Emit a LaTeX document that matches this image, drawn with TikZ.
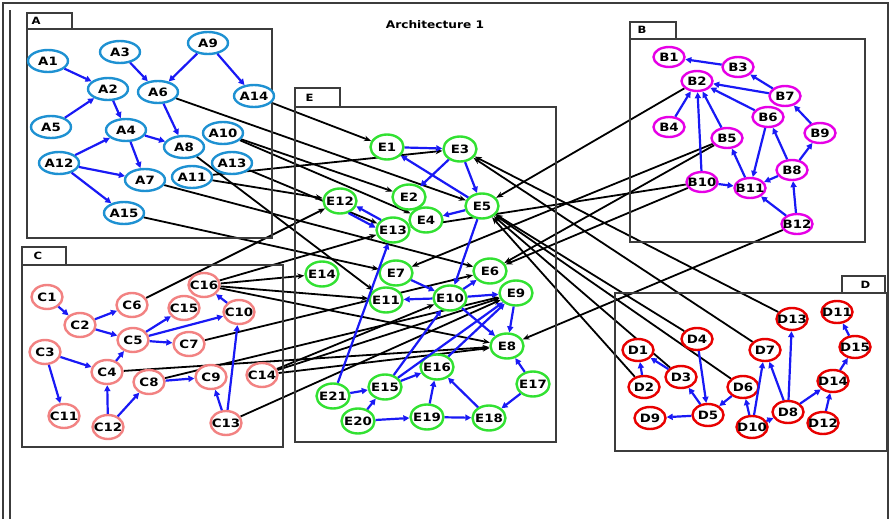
\documentclass[tikz,border=0pt]{standalone}
\usepackage{fontspec}
\newfontfamily\lblfont{DejaVu Sans}[FakeStretch=1.16]
\usetikzlibrary{arrows.meta,shapes.geometric,backgrounds}
\definecolor{acol}{RGB}{30,145,210}
\definecolor{bcol}{RGB}{230,0,230}
\definecolor{ccol}{RGB}{242,130,130}
\definecolor{dcol}{RGB}{232,0,0}
\definecolor{ecol}{RGB}{50,225,50}
\definecolor{arrblue}{RGB}{25,25,245}
\definecolor{boxgray}{RGB}{60,60,60}

\begin{document}
\begin{tikzpicture}[x=1pt,y=-1pt,
  every node/.style={font=\lblfont\bfseries\fontsize{11.5}{12}\selectfont},
  nd/.style={ellipse, draw, fill=white, line width=2.4pt, inner xsep=-6pt, inner ysep=-2pt},
  anode/.style={nd, draw=acol, minimum width=40pt, minimum height=22pt},
  bnode/.style={nd, draw=bcol, minimum width=31pt, minimum height=20pt},
  cnode/.style={nd, draw=ccol, minimum width=31pt, minimum height=24pt},
  dnode/.style={nd, draw=dcol, minimum width=31pt, minimum height=22pt},
  enode/.style={nd, draw=ecol, minimum width=33pt, minimum height=25pt},
  barrow/.style={draw=arrblue, line width=2.2pt, -{Triangle[length=6pt,width=6pt]}},
  karrow/.style={draw=black, line width=1.8pt, -{Stealth[length=7pt,width=5.5pt]}},
  grp/.style={draw=boxgray, line width=1.2pt},
  tablbl/.style={anchor=west, font=\lblfont\bfseries\fontsize{10}{11}\selectfont}]
\useasboundingbox (0,0) rectangle (891,519);

% frame
\draw[grp] (3,519) -- (3,3) -- (888,3) -- (888,519);
\draw[grp] (10,519) -- (10,10);
\node[font=\lblfont\bfseries\fontsize{10.5}{11}\selectfont] (title) at (435,25) {Architecture 1};

% group boxes
\draw[grp] (27,29) rectangle (272,238);
\draw[grp] (27,13) rectangle (72,29);
\node[tablbl] (tabA) at (28,21) {A};
\draw[grp] (630,39) rectangle (865,242);
\draw[grp] (630,22) rectangle (676,39);
\node[tablbl] (tabB) at (634,30) {B};
\draw[grp] (22,265) rectangle (283,447);
\draw[grp] (22,247) rectangle (66,265);
\node[tablbl] (tabC) at (30,256) {C};
\draw[grp] (295,107) rectangle (556,442);
\draw[grp] (295,88) rectangle (340,107);
\node[tablbl] (tabE) at (302,98) {E};
\draw[grp] (615,293) rectangle (887,451);
\draw[grp] (842,276) rectangle (885,293);
\node[tablbl] (tabD) at (857,285) {D};

% A
\node[anode] (A1) at (48,61) {A1};
\node[anode] (A2) at (108,89) {A2};
\node[anode] (A3) at (120,52) {A3};
\node[anode] (A6) at (158,92) {A6};
\node[anode] (A9) at (208,43) {A9};
\node[anode] (A14) at (254,96) {A14};
\node[anode] (A5) at (51,127) {A5};
\node[anode] (A4) at (126,130) {A4};
\node[anode] (A10) at (223,133) {A10};
\node[anode] (A8) at (184,147) {A8};
\node[anode] (A12) at (59,163) {A12};
\node[anode] (A13) at (232,163) {A13};
\node[anode] (A7) at (145,180) {A7};
\node[anode] (A11) at (192,177) {A11};
\node[anode] (A15) at (124,213) {A15};

% B
\node[bnode] (B1) at (669,57) {B1};
\node[bnode] (B3) at (738,67) {B3};
\node[bnode] (B2) at (697,81) {B2};
\node[bnode] (B7) at (785,96) {B7};
\node[bnode] (B4) at (669,127) {B4};
\node[bnode] (B6) at (768,117) {B6};
\node[bnode] (B5) at (727,138) {B5};
\node[bnode] (B9) at (820,133) {B9};
\node[bnode] (B10) at (702,182) {B10};
\node[bnode] (B8) at (792,170) {B8};
\node[bnode] (B11) at (750,188) {B11};
\node[bnode] (B12) at (797,224) {B12};

% C
\node[cnode] (C1) at (47,297) {C1};
\node[cnode] (C6) at (132,305) {C6};
\node[cnode] (C16) at (204,285) {C16};
\node[cnode] (C15) at (184,308) {C15};
\node[cnode] (C10) at (239,312) {C10};
\node[cnode] (C2) at (80,325) {C2};
\node[cnode] (C5) at (133,340) {C5};
\node[cnode] (C7) at (189,344) {C7};
\node[cnode] (C3) at (45,352) {C3};
\node[cnode] (C4) at (107,372) {C4};
\node[cnode] (C8) at (149,382) {C8};
\node[cnode] (C9) at (211,377) {C9};
\node[cnode] (C14) at (262,375) {C14};
\node[cnode] (C11) at (64,416) {C11};
\node[cnode] (C12) at (108,427) {C12};
\node[cnode] (C13) at (226,423) {C13};

% D
\node[dnode] (D13) at (792,319) {D13};
\node[dnode] (D11) at (837,312) {D11};
\node[dnode] (D4) at (697,339) {D4};
\node[dnode] (D1) at (638,350) {D1};
\node[dnode] (D7) at (765,350) {D7};
\node[dnode] (D15) at (855,347) {D15};
\node[dnode] (D3) at (681,377) {D3};
\node[dnode] (D2) at (644,387) {D2};
\node[dnode] (D6) at (743,387) {D6};
\node[dnode] (D14) at (833,381) {D14};
\node[dnode] (D9) at (650,418) {D9};
\node[dnode] (D5) at (708,415) {D5};
\node[dnode] (D8) at (788,412) {D8};
\node[dnode] (D10) at (752,427) {D10};
\node[dnode] (D12) at (823,423) {D12};

% E
\node[enode] (E1) at (387,147) {E1};
\node[enode] (E3) at (460,149) {E3};
\node[enode] (E2) at (409,197) {E2};
\node[enode] (E5) at (482,206) {E5};
\node[enode] (E12) at (340,201) {E12};
\node[enode] (E4) at (426,220) {E4};
\node[enode] (E13) at (393,230) {E13};
\node[enode] (E14) at (322,274) {E14};
\node[enode] (E7) at (396,273) {E7};
\node[enode] (E6) at (490,271) {E6};
\node[enode] (E11) at (386,300) {E11};
\node[enode] (E10) at (450,298) {E10};
\node[enode] (E9) at (516,293) {E9};
\node[enode] (E8) at (507,346) {E8};
\node[enode] (E16) at (437,367) {E16};
\node[enode] (E17) at (533,384) {E17};
\node[enode] (E21) at (333,396) {E21};
\node[enode] (E15) at (385,387) {E15};
\node[enode] (E20) at (358,421) {E20};
\node[enode] (E19) at (427,417) {E19};
\node[enode] (E18) at (489,418) {E18};

\begin{scope}[on background layer]
% between groups
\draw[karrow] (A14) -- (E1);
\draw[karrow] (A6) -- (E5);
\draw[karrow] (A10) -- (E2);
\draw[karrow] (A10) -- (E4);
\draw[karrow] (A11) -- (E3);
\draw[karrow] (A11) -- (E12);
\draw[karrow] (A13) -- (E13);
\draw[karrow] (A8) -- (E11);
\draw[karrow] (A7) -- (E6);
\draw[karrow] (A15) -- (E7);
\draw[karrow] (B2) -- (E5);
\draw[karrow] (B5) -- (E7);
\draw[karrow] (B5) -- (E6);
\draw[karrow] (B10) -- (E6);
\draw[karrow] (B10) -- (E13);
\draw[karrow] (B12) -- (E8);
\draw[karrow] (C16) -- (E13);
\draw[karrow] (C16) -- (E14);
\draw[karrow] (C16) -- (E11);
\draw[karrow] (C16) -- (E8);
\draw[karrow] (C6) -- (E12);
\draw[karrow] (C7) -- (E6);
\draw[karrow] (C4) -- (E8);
\draw[karrow] (C8) -- (E9);
\draw[karrow] (C14) -- (E9);
\draw[karrow] (C14) -- (E8);
\draw[karrow] (C14) -- (E10);
\draw[karrow] (C13) -- (E9);
\draw[karrow] (D13) -- (E3);
\draw[karrow] (D7) -- (E3);
\draw[karrow] (D4) -- (E5);
\draw[karrow] (D3) -- (E5);
\draw[karrow] (D6) -- (E5);
\draw[karrow] (D2) -- (E5);
\end{scope}

% inside A
\draw[barrow] (A1) -- (A2);
\draw[barrow] (A5) -- (A2);
\draw[barrow] (A3) -- (A6);
\draw[barrow] (A9) -- (A6);
\draw[barrow] (A9) -- (A14);
\draw[barrow] (A2) -- (A4);
\draw[barrow] (A6) -- (A8);
\draw[barrow] (A4) -- (A8);
\draw[barrow] (A4) -- (A7);
\draw[barrow] (A12) -- (A4);
\draw[barrow] (A12) -- (A7);
\draw[barrow] (A12) -- (A15);

% inside B
\draw[barrow] (B3) -- (B1);
\draw[barrow] (B7) -- (B3);
\draw[barrow] (B7) -- (B2);
\draw[barrow] (B6) -- (B2);
\draw[barrow] (B4) -- (B2);
\draw[barrow] (B5) -- (B2);
\draw[barrow] (B10) -- (B2);
\draw[barrow] (B11) -- (B5);
\draw[barrow] (B6) -- (B11);
\draw[barrow] (B8) -- (B6);
\draw[barrow] (B8) -- (B11);
\draw[barrow] (B8) -- (B9);
\draw[barrow] (B9) -- (B7);
\draw[barrow] (B10) -- (B11);
\draw[barrow] (B12) -- (B11);
\draw[barrow] (B12) -- (B8);

% inside C
\draw[barrow] (C1) -- (C2);
\draw[barrow] (C2) -- (C6);
\draw[barrow] (C2) -- (C5);
\draw[barrow] (C5) -- (C15);
\draw[barrow] (C5) -- (C10);
\draw[barrow] (C5) -- (C7);
\draw[barrow] (C10) -- (C16);
\draw[barrow] (C4) -- (C5);
\draw[barrow] (C3) -- (C4);
\draw[barrow] (C3) -- (C11);
\draw[barrow] (C12) -- (C4);
\draw[barrow] (C12) -- (C8);
\draw[barrow] (C8) -- (C9);
\draw[barrow] (C13) -- (C9);
\draw[barrow] (C13) -- (C10);

% inside D
\draw[barrow] (D2) -- (D1);
\draw[barrow] (D3) -- (D1);
\draw[barrow] (D4) -- (D5);
\draw[barrow] (D5) -- (D3);
\draw[barrow] (D6) -- (D5);
\draw[barrow] (D5) -- (D9);
\draw[barrow] (D10) -- (D6);
\draw[barrow] (D10) -- (D7);
\draw[barrow] (D10) -- (D8);
\draw[barrow] (D8) -- (D7);
\draw[barrow] (D8) -- (D13);
\draw[barrow] (D8) -- (D14);
\draw[barrow] (D12) -- (D14);
\draw[barrow] (D14) -- (D15);
\draw[barrow] (D15) -- (D11);

% inside E
\draw[barrow] (E1) -- (E3);
\draw[barrow] (E3) -- (E2);
\draw[barrow] (E3) -- (E5);
\draw[barrow] (E5) -- (E1);
\draw[barrow] (E5) -- (E4);
\draw[barrow] (E13.140) -- (E12.-18);
\draw[barrow] (E12.-55) -- (E13.172);
\draw[barrow] (E5) -- (E10);
\draw[barrow] (E21) -- (E13);
\draw[barrow] (E7) -- (E10);
\draw[barrow] (E10) -- (E6);
\draw[barrow] (E10) -- (E11);
\draw[barrow] (E10) -- (E9);
\draw[barrow] (E10) -- (E8);
\draw[barrow] (E9) -- (E8);
\draw[barrow] (E15) -- (E10);
\draw[barrow] (E15) -- (E9);
\draw[barrow] (E16) -- (E9);
\draw[barrow] (E15) -- (E16);
\draw[barrow] (E21) -- (E15);
\draw[barrow] (E20) -- (E15);
\draw[barrow] (E20) -- (E19);
\draw[barrow] (E19) -- (E16);
\draw[barrow] (E19) -- (E18);
\draw[barrow] (E18) -- (E16);
\draw[barrow] (E17) -- (E18);
\draw[barrow] (E17) -- (E8);
\end{tikzpicture}
\end{document}
